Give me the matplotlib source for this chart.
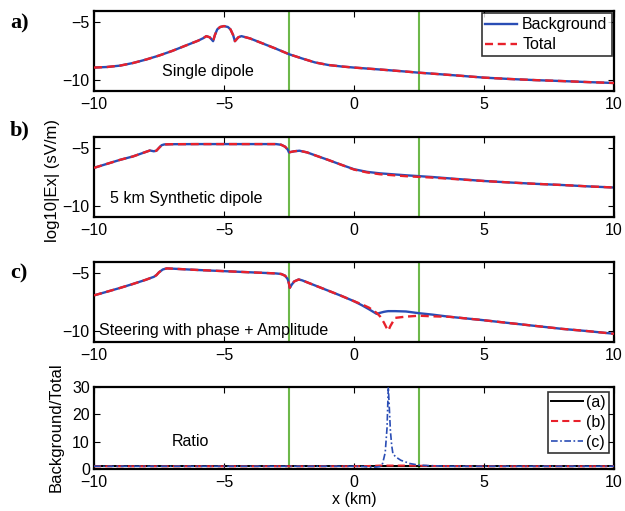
import matplotlib
matplotlib.use("Agg")
import matplotlib.pyplot as plt

plt.rcParams['font.family'] = ['Liberation Sans', 'DejaVu Sans']
plt.rcParams['font.size'] = 11

# ---------------- data ----------------
x_ticks = [-10, -5, 0, 5, 10]
green_lines = [-2.5, 2.5]

a_x = [-10, -9.5, -9, -8.5, -8, -7.5, -7, -6.5, -6, -5.8, -5.68, -5.55, -5.42,
       -5.35, -5.26, -5.15, -5.0, -4.85, -4.75, -4.65, -4.58, -4.45, -4.33,
       -4.0, -3.5, -3, -2.5, -2, -1.5, -1, -0.5, 0, 1, 2, 2.5, 3, 4, 5, 6, 7, 8, 9, 10]
a_background = [-8.95, -8.9, -8.78, -8.55, -8.25, -7.9, -7.5, -7.05, -6.6, -6.38, -6.2, -6.3, -6.64,
                -6.1, -5.61, -5.4, -5.32, -5.4, -5.61, -6.1, -6.64, -6.3, -6.2,
                -6.4, -6.85, -7.3, -7.78, -8.15, -8.5, -8.72, -8.85, -8.95, -9.12, -9.3, -9.4,
                -9.48, -9.65, -9.83, -9.95, -10.05, -10.13, -10.22, -10.3]
a_total = [-8.95, -8.9, -8.78, -8.55, -8.25, -7.9, -7.5, -7.05, -6.6, -6.38, -6.2, -6.3, -6.64,
           -6.1, -5.61, -5.4, -5.32, -5.4, -5.61, -6.1, -6.64, -6.3, -6.2,
           -6.4, -6.85, -7.3, -7.78, -8.15, -8.5, -8.72, -8.85, -8.95, -9.12, -9.3, -9.4,
           -9.48, -9.65, -9.83, -9.95, -10.05, -10.13, -10.22, -10.3]

b_x = [-10, -9.5, -9, -8.5, -8, -7.85, -7.7, -7.6, -7.5, -7.4, -7.3, -7, -6, -5, -4, -3,
       -2.8, -2.65, -2.55, -2.5, -2.45, -2.3, -2.1, -1.8, -1.5, -1, -0.5, 0, 0.5, 1, 2, 3,
       4, 5, 6, 7, 8, 9, 10]
b_background = [-6.7, -6.35, -6.0, -5.7, -5.3, -5.18, -5.25, -5.2, -4.95, -4.72, -4.65, -4.63,
                -4.62, -4.62, -4.62, -4.62, -4.68, -4.85, -5.1, -5.35, -5.32, -5.25, -5.2,
                -5.35, -5.6, -6.0, -6.42, -6.82, -7.05, -7.18, -7.35, -7.5, -7.68, -7.85,
                -7.98, -8.1, -8.2, -8.32, -8.42]
b_total = [-6.7, -6.35, -6.0, -5.7, -5.3, -5.18, -5.25, -5.2, -4.95, -4.72, -4.65, -4.63,
           -4.62, -4.62, -4.62, -4.62, -4.68, -4.85, -5.1, -5.35, -5.32, -5.25, -5.2,
           -5.35, -5.6, -6.0, -6.42, -6.85, -7.1, -7.26, -7.43, -7.55, -7.7, -7.85,
           -7.98, -8.1, -8.2, -8.32, -8.42]

c_x = [-10, -9.5, -9, -8.5, -8, -7.8, -7.7, -7.6, -7.5, -7.35, -7.2, -7, -6, -5, -4, -3,
       -2.8, -2.65, -2.55, -2.5, -2.47, -2.4, -2.3, -2.13, -2, -1.5, -1, -0.5, 0, 0.3,
       0.58, 0.87, 1.0, 1.15, 1.25, 1.32, 1.4, 1.58, 2, 2.5, 3, 3.7, 4.85, 6, 7, 8, 9, 10]
c_background = [-6.92, -6.6, -6.27, -5.92, -5.55, -5.38, -5.3, -5.15, -4.9, -4.65, -4.56, -4.58,
                -4.7, -4.8, -4.9, -5.0, -5.05, -5.2, -5.5, -5.9, -6.26, -6.0, -5.7, -5.53,
                -5.6, -6.05, -6.5, -6.95, -7.43, -7.78, -8.14, -8.54, -8.45, -8.36, -8.32,
                -8.3, -8.3, -8.3, -8.33, -8.48, -8.6, -8.8, -9.06, -9.35, -9.6, -9.85,
                -10.05, -10.28]
c_total = [-6.92, -6.6, -6.27, -5.92, -5.55, -5.38, -5.3, -5.15, -4.9, -4.65, -4.56, -4.58,
           -4.7, -4.8, -4.9, -5.0, -5.05, -5.2, -5.5, -5.9, -6.26, -6.0, -5.7, -5.53,
           -5.6, -6.05, -6.5, -6.95, -7.43, -7.7, -8.0, -8.45, -8.75, -9.3, -9.75,
           -10.0, -9.6, -8.89, -8.78, -8.7, -8.75, -8.8, -9.06, -9.35, -9.6, -9.85,
           -10.05, -10.28]

ratio_x = [-10, -5, 0, 0.4, 0.6, 0.85, 1.0, 1.1, 1.2, 1.27, 1.32, 1.36, 1.4, 1.45, 1.5,
           1.64, 1.8, 2.15, 2.5, 3.0, 3.6, 5, 10]
ratio_a = [1, 1, 1, 1, 1, 1, 1, 1, 1, 1, 1, 1, 1, 1, 1, 1, 1, 1, 1, 1, 1, 1, 1]
ratio_b = [1, 1, 1, 1.05, 1.1, 1.2, 1.25, 1.25, 1.25, 1.25, 1.25, 1.25, 1.25, 1.25, 1.25,
           1.25, 1.25, 1.25, 1.2, 1.1, 1.05, 1, 1]
ratio_c = [1, 1, 1, 0.9, 0.72, 0.7, 0.9, 2.0, 6.0, 15, 30, 22, 14, 8.6, 5.4,
           4.2, 3.2, 2.0, 1.4, 1.2, 1.0, 1, 1]

panel_texts = ["Single dipole", "5 km Synthetic dipole", "Steering with phase + Amplitude"]
panel_letters = ["a)", "b)", "c)"]

# ---------------- style ----------------
BLUE = '#2a4db5'
RED = '#e8212b'
GREEN = '#6db84a'

W, H = 625, 511
fig = plt.figure(figsize=(W / 100, H / 100), dpi=100)


def ax_at(top, bottom, left=94, right=614):
    return fig.add_axes([left / W, 1 - bottom / H, (right - left) / W, (bottom - top) / H])


def style(ax):
    for s in ax.spines.values():
        s.set_linewidth(1.6)
        s.set_color('black')
    ax.tick_params(direction='in', top=True, right=True, length=4, width=0.8,
                   labelsize=11.5, pad=3)
    ax.tick_params(axis='x', pad=4)
    ax.set_xlim(-10, 10)
    ax.set_xticks(x_ticks)
    ax.set_xticklabels([f"\u2212{abs(v)}" if v < 0 else str(v) for v in x_ticks])


tops = [11, 137, 262]
bottoms = [91, 217, 342]
xs = [a_x, b_x, c_x]
bgs = [a_background, b_background, c_background]
tots = [a_total, b_total, c_total]
text_pos = [(-7.4, -9.3), (-9.4, -9.4), (-9.8, -10.0)]
letter_y = [23, 130, 273]

axes = []
for i in range(3):
    ax = ax_at(tops[i], bottoms[i])
    style(ax)
    for g in green_lines:
        ax.axvline(g, color=GREEN, lw=1.5, zorder=1)
    ax.plot(xs[i], bgs[i], color=BLUE, lw=1.7, label='Background', zorder=2)
    ax.plot(xs[i], tots[i], color=RED, lw=1.7, ls=(0, (3.4, 2.0)), label='Total', zorder=3)
    ax.set_ylim(-11, -4)
    ax.set_yticks([-10, -5])
    ax.set_yticklabels(["\u221210", "\u22125"])
    ax.text(text_pos[i][0], text_pos[i][1], panel_texts[i], fontsize=11.5, ha='left', va='center')
    fig.text(10 / W, 1 - letter_y[i] / H, panel_letters[i], family='Liberation Serif',
             fontweight='bold', fontsize=16, ha='left', va='center')
    axes.append(ax)

leg = axes[0].legend(loc='upper right', fontsize=11.5, frameon=True, fancybox=False,
                     edgecolor='black', handlelength=2.0, borderaxespad=0.15,
                     borderpad=0.25, labelspacing=0.3, handletextpad=0.3)
leg.get_frame().set_linewidth(1.2)

fig.text(52 / W, 1 - 180 / H, "log10|Ex| (sV/m)", rotation=90, ha='center', va='center',
         fontsize=12)

# ratio panel
axd = ax_at(387, 469)
style(axd)
for g in green_lines:
    axd.axvline(g, color=GREEN, lw=1.5, zorder=1)
axd.plot(ratio_x, ratio_a, color='black', lw=1.4, label='(a)', zorder=2)
axd.plot(ratio_x, ratio_b, color=RED, lw=1.5, ls=(0, (3.4, 2.0)), label='(b)', zorder=3)
axd.plot(ratio_x, ratio_c, color=BLUE, lw=1.2, ls=(0, (4, 1.5, 1, 1.5)), label='(c)', zorder=4)
axd.set_ylim(0, 30)
axd.set_yticks([0, 10, 20, 30])
axd.text(-7.0, 10, "Ratio", fontsize=11.5, ha='left', va='center')
legd = axd.legend(loc='upper right', fontsize=11.5, frameon=True, fancybox=False,
                  edgecolor='black', handlelength=2.0, borderaxespad=0.3,
                  borderpad=0.2, labelspacing=0.3, handletextpad=0.2)
legd.get_frame().set_linewidth(1.2)
fig.text(56 / W, 1 - 427 / H, "Background/Total", rotation=90, ha='center', va='center',
         fontsize=12)
fig.text(354 / W, 1 - 499 / H, "x (km)", ha='center', va='center', fontsize=11.5)

fig.savefig("out.png", dpi=100)
